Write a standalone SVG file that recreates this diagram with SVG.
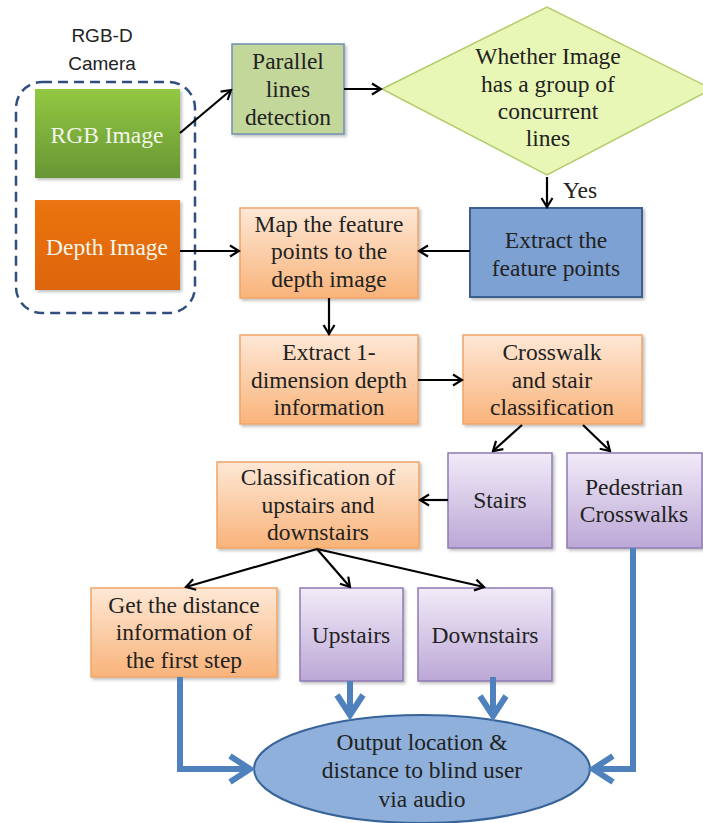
<svg xmlns="http://www.w3.org/2000/svg" width="703" height="823" viewBox="0 0 703 823">
<style>
.t{font-family:"Liberation Serif","Times New Roman",serif;font-size:23.5px;fill:#222;text-anchor:middle}
.s{font-family:"Liberation Sans",Arial,sans-serif;font-size:19px;fill:#222;text-anchor:middle}
.w{fill:#f2f6ea}
.org{fill:url(#gOrg);stroke:#f0a468;stroke-width:1.5;filter:url(#sh)}
.pur{fill:url(#gPur);stroke:#8f7bb3;stroke-width:1.5;filter:url(#sh)}
.blk{fill:none;stroke:#000;stroke-width:2.2;marker-end:url(#ah)}
.blu{fill:none;stroke:#4f81bd;stroke-width:6;marker-end:url(#bh)}
</style>
<defs>
<linearGradient id="gOrg" x1="0" y1="0" x2="0" y2="1"><stop offset="0" stop-color="#fde8d6"/><stop offset="1" stop-color="#f9b37a"/></linearGradient>
<linearGradient id="gPur" x1="0" y1="0" x2="0" y2="1"><stop offset="0" stop-color="#f1ebf8"/><stop offset="1" stop-color="#bca7d6"/></linearGradient>
<linearGradient id="gGrn" x1="0" y1="0" x2="0" y2="1"><stop offset="0" stop-color="#93c842"/><stop offset="1" stop-color="#679634"/></linearGradient>
<linearGradient id="gDep" x1="0" y1="0" x2="0" y2="1"><stop offset="0" stop-color="#ec7412"/><stop offset="1" stop-color="#dd650a"/></linearGradient>
<filter id="sh" x="-10%" y="-10%" width="130%" height="130%"><feDropShadow dx="2" dy="2" stdDeviation="1.5" flood-color="#000" flood-opacity="0.25"/></filter>
<marker id="ah" markerUnits="userSpaceOnUse" markerWidth="14" markerHeight="14" viewBox="0 0 14 14" refX="12" refY="7" orient="auto"><path d="M3,1.5 L12,7 L3,12.5" fill="none" stroke="#000" stroke-width="2.2"/></marker>
<marker id="bh" markerUnits="userSpaceOnUse" markerWidth="34" markerHeight="34" viewBox="0 0 34 34" refX="29" refY="17" orient="auto"><path d="M8,4 L28,17 L8,30" fill="none" stroke="#4f81bd" stroke-width="6"/></marker>
</defs>
<rect width="703" height="823" fill="#fff"/>

<g id="camera">
<rect x="16" y="82" width="179" height="231" rx="26" fill="none" stroke="#2f4f7f" stroke-width="2.5" stroke-dasharray="10 6"/>
<text class="s" x="102" y="42">RGB-D</text>
<text class="s" x="102" y="70">Camera</text>
</g>
<g id="rgb">
<rect x="35" y="89" width="145" height="89" fill="url(#gGrn)" filter="url(#sh)"/>
<text class="t w" x="107" y="143">RGB Image</text>
</g>
<g id="depth">
<rect x="35" y="200" width="145" height="90" fill="url(#gDep)" filter="url(#sh)"/>
<text class="t w" x="107" y="255">Depth Image</text>
</g>
<g id="parallel">
<rect x="232" y="44" width="112" height="90" fill="#c4d79b" stroke="#6f8fb0" stroke-width="1.5" filter="url(#sh)"/>
<text class="t" x="288" y="69">Parallel</text>
<text class="t" x="288" y="97">lines</text>
<text class="t" x="288" y="125">detection</text>
</g>
<g id="decision">
<polygon points="382,89 547,7 712,89 547,175" fill="#e8f7b5" stroke="#b3cd6c" stroke-width="1.5"/>
<text class="t" x="548" y="64">Whether Image</text>
<text class="t" x="548" y="92">has a group of</text>
<text class="t" x="548" y="119">concurrent</text>
<text class="t" x="548" y="146">lines</text>
</g>
<g id="extractfp">
<rect x="470" y="208" width="172" height="89" fill="#7ea1d4" stroke="#3b5f8f" stroke-width="2" filter="url(#sh)"/>
<text class="t" x="556" y="248">Extract the</text>
<text class="t" x="556" y="276">feature points</text>
</g>
<g id="map">
<rect class="org" x="240" y="208" width="178" height="90"/>
<text class="t" x="329" y="232">Map the feature</text>
<text class="t" x="329" y="259">points to the</text>
<text class="t" x="329" y="287">depth image</text>
</g>
<g id="extract1d">
<rect class="org" x="240" y="335" width="178" height="89"/>
<text class="t" x="329" y="360">Extract 1-</text>
<text class="t" x="329" y="388">dimension depth</text>
<text class="t" x="329" y="415">information</text>
</g>
<g id="classify">
<rect class="org" x="463" y="335" width="179" height="89"/>
<text class="t" x="552" y="360">Crosswalk</text>
<text class="t" x="552" y="388">and stair</text>
<text class="t" x="552" y="415">classification</text>
</g>
<g id="stairs">
<rect class="pur" x="448" y="453" width="104" height="95"/>
<text class="t" x="500" y="508">Stairs</text>
</g>
<g id="pedestrian">
<rect class="pur" x="567" y="453" width="135" height="95"/>
<text class="t" x="634" y="495">Pedestrian</text>
<text class="t" x="634" y="522">Crosswalks</text>
</g>
<g id="updown">
<rect class="org" x="217" y="462" width="202" height="86"/>
<text class="t" x="318" y="485">Classification of</text>
<text class="t" x="318" y="513">upstairs and</text>
<text class="t" x="318" y="540">downstairs</text>
</g>
<g id="distance">
<rect class="org" x="91" y="588" width="186" height="89"/>
<text class="t" x="184" y="613">Get the distance</text>
<text class="t" x="184" y="640">information of</text>
<text class="t" x="184" y="668">the first step</text>
</g>
<g id="upstairs">
<rect class="pur" x="300" y="588" width="103" height="93"/>
<text class="t" x="351" y="643">Upstairs</text>
</g>
<g id="downstairs">
<rect class="pur" x="418" y="588" width="134" height="93"/>
<text class="t" x="485" y="643">Downstairs</text>
</g>
<g id="output">
<ellipse cx="422" cy="769" rx="168" ry="54" fill="#8fb0da" stroke="#36639a" stroke-width="2"/>
<text class="t" x="422" y="750">Output location &amp;</text>
<text class="t" x="422" y="778">distance to blind user</text>
<text class="t" x="422" y="807">via audio</text>
</g>

<g id="connectors">
<path class="blk" d="M180,133 L231,90"/>
<path class="blk" d="M344,89 L381,89"/>
<path class="blk" d="M547,177 L547,207"/>
<path class="blk" d="M470,251 L419,251"/>
<path class="blk" d="M180,251 L239,251"/>
<path class="blk" d="M329,298 L329,334"/>
<path class="blk" d="M418,380 L462,380"/>
<path class="blk" d="M522,425 L493,451"/>
<path class="blk" d="M583,425 L610,451"/>
<path class="blk" d="M448,500 L420,500"/>
<path class="blk" d="M317,549 L186,587"/>
<path class="blk" d="M317,549 L350,587"/>
<path class="blk" d="M317,549 L484,587"/>
<text class="t" x="580" y="198">Yes</text>
<path class="blu" d="M180,677 L180,769 L251,769"/>
<path class="blu" d="M350,681 L350,716"/>
<path class="blu" d="M493,677 L493,717"/>
<path class="blu" d="M633,548 L633,769 L592,769"/>
</g>
</svg>
